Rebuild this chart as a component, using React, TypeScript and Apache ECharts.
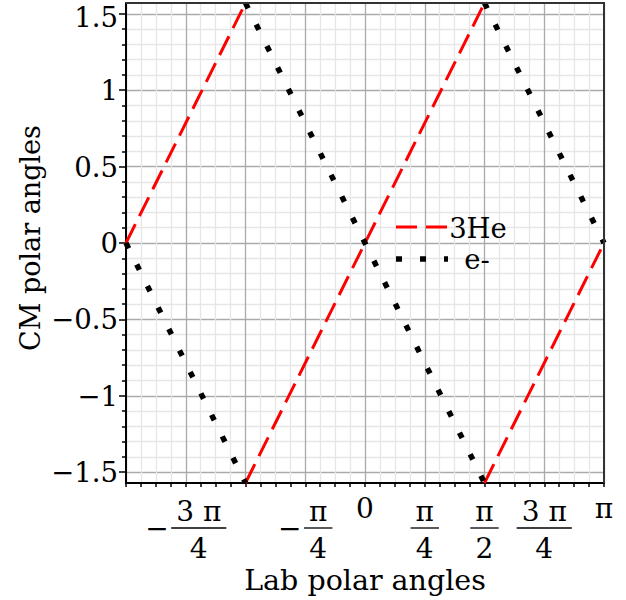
import { useEffect, useRef } from "react";
import * as echarts from "echarts";

// 3He curve (red dashed) – three straight segments
const heSegments: number[][][] = [
  [[-3.14159, 0], [-1.5708, 1.5708]],
  [[-1.5708, -1.5708], [1.5708, 1.5708]],
  [[1.5708, -1.5708], [3.14159, 0]],
];
// e- curve (black dotted) – three straight segments
const eSegments: number[][][] = [
  [[-3.14159, 0], [-1.5708, -1.5708]],
  [[-1.5708, 1.5708], [1.5708, -1.5708]],
  [[1.5708, 1.5708], [3.14159, 0]],
];

const yMajorTicks = [-1.5, -1, -0.5, 0, 0.5, 1, 1.5];
const yMinorTicks = [
  -1.4, -1.3, -1.2, -1.1, -0.9, -0.8, -0.7, -0.6, -0.4, -0.3, -0.2, -0.1,
  0.1, 0.2, 0.3, 0.4, 0.6, 0.7, 0.8, 0.9, 1.1, 1.2, 1.3, 1.4,
];

const xTickValues = [-2.35619, -0.785398, 0, 0.785398, 1.570796, 2.35619, 3.141593];
const xTickSigns = ["−", "−", "", "", "", "", ""];
const xTickNumerators = ["3 π", "π", "0", "π", "π", "3 π", "π"];
const xTickDenominators = ["4", "4", "", "4", "2", "4", ""];

const legendNames = ["3He", "e-"];
const xTitle = "Lab polar angles";
const yTitle = "CM polar angles";

const FONT = "DejaVu Serif";
const fmtY = (v: number) => String(v).replace("-", "−");

export default function App() {
  const ref = useRef<HTMLDivElement>(null);

  useEffect(() => {
    const chart = echarts.init(ref.current!, null, { renderer: "svg" });

    const series: any[] = [];
    heSegments.forEach((seg) =>
      series.push({
        type: "line",
        name: legendNames[0],
        data: seg,
        symbol: "none",
        showSymbol: false,
        lineStyle: { color: "#ff0000", width: 3, type: [21, 9], cap: "butt" },
        z: 3,
      })
    );
    eSegments.forEach((seg) =>
      series.push({
        type: "line",
        name: legendNames[1],
        data: seg,
        symbol: "none",
        showSymbol: false,
        lineStyle: { color: "#000000", width: 5.5, type: [6, 18], cap: "butt" },
        z: 4,
      })
    );

    const topLabel = yMajorTicks[yMajorTicks.length - 1];
    const axisLabelTicks = yMajorTicks.filter((v) => v !== topLabel);

    chart.setOption({
      animation: false,
      textStyle: { fontFamily: FONT },
      grid: { left: 126, right: 22, top: 3, bottom: 116, containLabel: false },
      xAxis: {
        type: "value",
        min: -Math.PI,
        max: Math.PI,
        interval: Math.PI / 4,
        name: xTitle,
        nameLocation: "middle",
        nameGap: 83,
        nameTextStyle: { fontFamily: FONT, fontSize: 28.5, color: "#000" },
        axisLine: { show: true, onZero: false, lineStyle: { color: "#000", width: 2 } },
        axisTick: { show: true, length: 4, lineStyle: { color: "#000", width: 1.5 } },
        minorTick: { show: true, splitNumber: 4, length: 4, lineStyle: { color: "#000", width: 1.5 } },
        axisLabel: { show: false },
        splitLine: { show: true, lineStyle: { color: "#aaaaaa", width: 1.3 } },
        minorSplitLine: { show: true, lineStyle: { color: "#e6e6e6", width: 1.3 } },
      },
      yAxis: [
        {
          type: "value",
          min: -Math.PI / 2,
          max: Math.PI / 2,
          position: "left",
          axisLine: { show: true, onZero: false, lineStyle: { color: "#000", width: 2 } },
          axisTick: { show: true, customValues: yMajorTicks, length: 7, lineStyle: { color: "#000", width: 1.5 } },
          axisLabel: {
            show: true,
            customValues: axisLabelTicks,
            margin: 8,
            fontFamily: FONT,
            fontSize: 27.5,
            color: "#000",
            formatter: fmtY,
          },
          splitLine: { show: true, lineStyle: { color: "#aaaaaa", width: 1.3 } },
        },
        {
          type: "value",
          min: -Math.PI / 2,
          max: Math.PI / 2,
          position: "left",
          axisLine: { show: false, onZero: false },
          axisTick: { show: true, customValues: yMinorTicks, length: 4, lineStyle: { color: "#000", width: 1.5 } },
          axisLabel: { show: false },
          splitLine: { show: true, lineStyle: { color: "#e6e6e6", width: 1.3 } },
        },
      ],
      series,
    });

    const toX = (v: number) => chart.convertToPixel({ xAxisIndex: 0 }, v) as number;
    const toY = (v: number) => chart.convertToPixel({ yAxisIndex: 0 }, v) as number;
    const left = toX(-Math.PI);
    const right = toX(Math.PI);
    const top = toY(Math.PI / 2);
    const bottom = toY(-Math.PI / 2);

    const canvas = document.createElement("canvas");
    const ctx = canvas.getContext("2d")!;
    const labelSize = 28;
    ctx.font = `${labelSize}px "${FONT}"`;

    const graphics: any[] = [];
    // top and right frame
    graphics.push({
      type: "polyline",
      shape: { points: [[left, top], [right, top], [right, bottom]] },
      style: { stroke: "#333333", lineWidth: 2, fill: null },
      z: 100,
    });

    // top y label, nudged down so it stays inside the page
    graphics.push({
      type: "text",
      x: left - 8,
      y: toY(topLabel) + 3,
      style: { text: fmtY(topLabel), fontFamily: FONT, fontSize: 27.5, fill: "#000", align: "right", verticalAlign: "middle" },
      z: 100,
    });

    // y axis title
    graphics.push({
      type: "text",
      x: 30,
      y: 238,
      rotation: Math.PI / 2,
      style: { text: yTitle, fontFamily: FONT, fontSize: 27, fill: "#000", align: "center", verticalAlign: "middle" },
      z: 100,
    });

    const numY = bottom + 28;
    const barY = bottom + 45;
    const denY = bottom + 65;
    xTickValues.forEach((v, i) => {
      const px = toX(v);
      const num = xTickNumerators[i];
      const den = xTickDenominators[i];
      const sign = xTickSigns[i];
      if (!den) {
        graphics.push({
          type: "text",
          x: px,
          y: bottom + 25,
          style: { text: num, fontFamily: FONT, fontSize: labelSize, fill: "#000", align: "center", verticalAlign: "middle" },
          z: 100,
        });
        return;
      }
      const barW = ctx.measureText(num).width + 10;
      const signW = sign ? 26 : 0;
      const total = signW + barW;
      const x0 = px - total / 2;
      const bx0 = x0 + signW;
      const cx = bx0 + barW / 2;
      if (sign) {
        graphics.push({
          type: "text",
          x: x0,
          y: barY,
          style: { text: sign, fontFamily: FONT, fontSize: labelSize, fill: "#000", align: "left", verticalAlign: "middle" },
          z: 100,
        });
      }
      graphics.push({
        type: "line",
        shape: { x1: bx0, y1: barY, x2: bx0 + barW, y2: barY },
        style: { stroke: "#000", lineWidth: 1.3 },
        z: 100,
      });
      graphics.push({
        type: "text",
        x: cx,
        y: numY,
        style: { text: num, fontFamily: FONT, fontSize: labelSize, fill: "#000", align: "center", verticalAlign: "middle" },
        z: 100,
      });
      graphics.push({
        type: "text",
        x: cx,
        y: denY,
        style: { text: den, fontFamily: FONT, fontSize: labelSize, fill: "#000", align: "center", verticalAlign: "middle" },
        z: 100,
      });
    });

    // legend
    graphics.push({
      type: "line",
      shape: { x1: 396, y1: 227, x2: 449, y2: 227 },
      style: { stroke: "#ff0000", lineWidth: 3, lineDash: [21, 9] },
      z: 100,
    });
    graphics.push({
      type: "text",
      x: 478,
      y: 228,
      style: { text: legendNames[0], fontFamily: FONT, fontSize: 27.5, fill: "#000", align: "center", verticalAlign: "middle" },
      z: 100,
    });
    graphics.push({
      type: "line",
      shape: { x1: 396, y1: 259, x2: 448, y2: 259 },
      style: { stroke: "#000", lineWidth: 5.5, lineDash: [6, 18] },
      z: 100,
    });
    graphics.push({
      type: "text",
      x: 477,
      y: 259,
      style: { text: legendNames[1], fontFamily: FONT, fontSize: 27.5, fill: "#000", align: "center", verticalAlign: "middle" },
      z: 100,
    });

    chart.setOption({ graphic: graphics });

    return () => chart.dispose();
  }, []);

  return <div ref={ref} style={{ position: "absolute", left: 0, top: 0, width: 626, height: 600 }} />;
}
